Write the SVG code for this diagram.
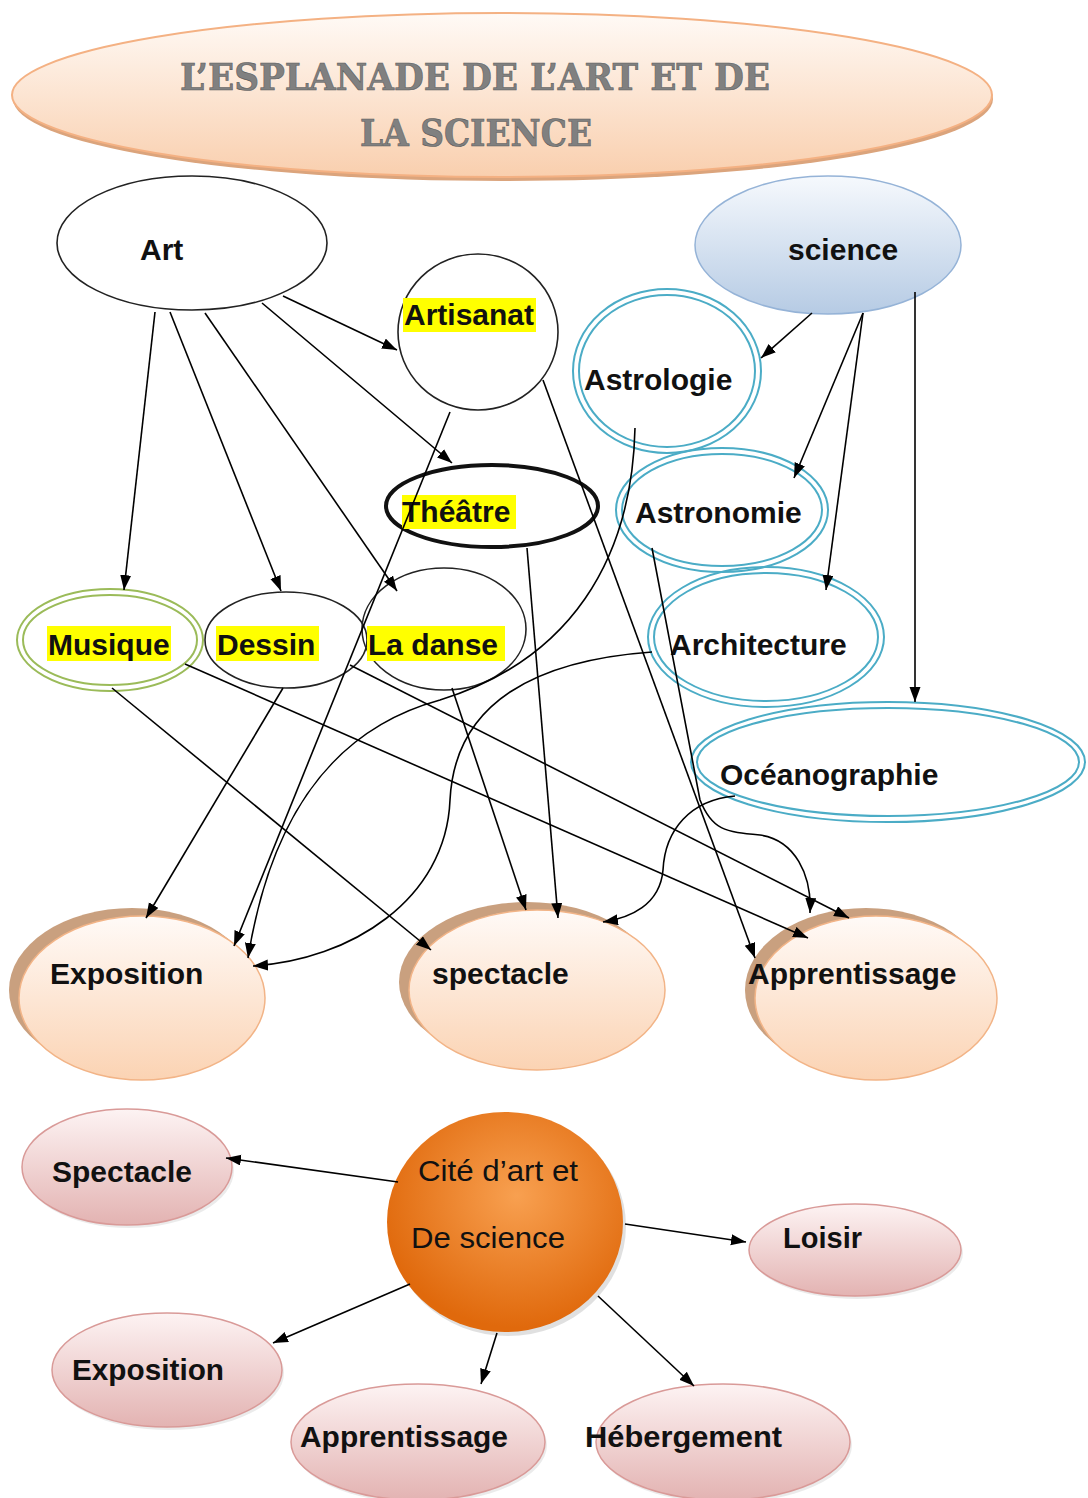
<svg xmlns="http://www.w3.org/2000/svg" width="1088" height="1498" viewBox="0 0 1088 1498">
<defs>
<linearGradient id="gTitle" x1="0" y1="0" x2="0" y2="1"><stop offset="0" stop-color="#fffaf6"/><stop offset="1" stop-color="#f9cfae"/></linearGradient>
<linearGradient id="gSci" x1="0" y1="0" x2="0" y2="1"><stop offset="0" stop-color="#f6f9fd"/><stop offset="1" stop-color="#b6cbe4"/></linearGradient>
<linearGradient id="gPeach" x1="0" y1="0" x2="0" y2="1"><stop offset="0" stop-color="#fffaf7"/><stop offset="1" stop-color="#fbd3b3"/></linearGradient>
<linearGradient id="gPink" x1="0" y1="0" x2="0" y2="1"><stop offset="0" stop-color="#fdf3f3"/><stop offset="1" stop-color="#e3b3b2"/></linearGradient>
<radialGradient id="gOrange" cx="0.55" cy="0.38" r="0.6"><stop offset="0" stop-color="#f8a050"/><stop offset="1" stop-color="#e0690c"/></radialGradient>
<marker id="ah" markerUnits="userSpaceOnUse" markerWidth="16" markerHeight="12" refX="15" refY="5.5" orient="auto"><path d="M0,0 L15,5.5 L0,11 z" fill="#000"/></marker>
<style>
.c{fill:none;stroke:#000;stroke-width:1.6;marker-end:url(#ah)}
.t{font-family:"Liberation Sans",Arial,sans-serif;font-weight:bold;font-size:30px;fill:#111}
.n{font-family:"Liberation Sans Narrow","Liberation Sans",Arial,sans-serif;font-size:30px;fill:#111}
.hl{fill:#ffff00}
.blk{fill:#fff;stroke:#222;stroke-width:1.6}
.cy{fill:none;stroke:#4bacc6;stroke-width:2}
.gr{fill:none;stroke:#9bbb59;stroke-width:2}
.pe{fill:url(#gPeach);stroke:#f2b487;stroke-width:1.5}
.sh{fill:#c9a07f}
.pk{fill:url(#gPink);stroke:#d99a98;stroke-width:1.5}
.ttl{font-family:"DejaVu Serif",serif;font-weight:bold;font-size:38px;fill:#808080;stroke:#5a5a5a;stroke-width:0.6}
</style>
</defs>
<rect width="1088" height="1498" fill="#fff"/>

<g id="title">
<ellipse cx="503" cy="99" rx="490" ry="82" fill="#dba47c"/>
<ellipse cx="502" cy="95" rx="490" ry="82" fill="url(#gTitle)" stroke="#f4b183" stroke-width="2"/>
<text class="ttl" x="180" y="90" textLength="590" lengthAdjust="spacingAndGlyphs">L’ESPLANADE DE L’ART ET DE</text>
<text class="ttl" x="360" y="146" textLength="232" lengthAdjust="spacingAndGlyphs">LA SCIENCE</text>
</g>

<g id="art">
<ellipse class="blk" cx="192" cy="243" rx="135" ry="67"/>
<text class="t" x="140" y="260">Art</text>
</g>
<g id="artisanat">
<ellipse cx="478" cy="332" rx="80" ry="78" fill="none" stroke="#222" stroke-width="1.6"/>
<rect class="hl" x="403" y="298" width="133" height="34"/>
<text class="t" x="404" y="325">Artisanat</text>
</g>
<g id="science">
<ellipse cx="828" cy="245" rx="133" ry="69" fill="url(#gSci)" stroke="#95b3d7" stroke-width="1.5"/>
<text class="t" x="788" y="260">science</text>
</g>
<g id="astrologie">
<ellipse class="cy" cx="667" cy="371" rx="94" ry="82"/>
<ellipse class="cy" cx="667" cy="371" rx="88" ry="76"/>
<text class="t" x="584" y="390">Astrologie</text>
</g>
<g id="astronomie">
<ellipse class="cy" cx="722" cy="510" rx="106" ry="62"/>
<ellipse class="cy" cx="722" cy="510" rx="100" ry="56"/>
<text class="t" x="635" y="523">Astronomie</text>
</g>
<g id="architecture">
<ellipse class="cy" cx="766" cy="637" rx="118" ry="70"/>
<ellipse class="cy" cx="766" cy="637" rx="112" ry="64"/>
<text class="t" x="670" y="655">Architecture</text>
</g>
<g id="oceanographie">
<ellipse class="cy" cx="888" cy="762" rx="197" ry="60"/>
<ellipse class="cy" cx="888" cy="762" rx="191" ry="54"/>
<text class="t" x="720" y="785">Océanographie</text>
</g>
<g id="theatre">
<ellipse cx="492" cy="506" rx="106" ry="41" fill="none" stroke="#111" stroke-width="4"/>
<rect class="hl" x="402" y="495" width="114" height="34"/>
<text class="t" x="402" y="522">Théâtre</text>
</g>
<g id="musique">
<ellipse class="gr" cx="110" cy="640" rx="93" ry="51"/>
<ellipse class="gr" cx="110" cy="640" rx="87" ry="45"/>
<rect class="hl" x="47" y="626" width="124" height="35"/>
<text class="t" x="48" y="655">Musique</text>
</g>
<g id="dessin">
<ellipse cx="286" cy="640" rx="81" ry="48" fill="none" stroke="#222" stroke-width="1.6"/>
<rect class="hl" x="216" y="626" width="103" height="35"/>
<text class="t" x="217" y="655">Dessin</text>
</g>
<g id="la-danse">
<ellipse cx="444" cy="629" rx="82" ry="61" fill="none" stroke="#222" stroke-width="1.6"/>
<rect class="hl" x="367" y="626" width="138" height="35"/>
<text class="t" x="368" y="655">La danse</text>
</g>

<g id="exposition">
<ellipse class="sh" cx="132" cy="990" rx="123" ry="82"/>
<ellipse class="pe" cx="142" cy="998" rx="123" ry="82"/>
<text class="t" x="50" y="984">Exposition</text>
</g>
<g id="spectacle">
<ellipse class="sh" cx="527" cy="982" rx="128" ry="80"/>
<ellipse class="pe" cx="537" cy="990" rx="128" ry="80"/>
<text class="t" x="432" y="984">spectacle</text>
</g>
<g id="apprentissage">
<ellipse class="sh" cx="866" cy="990" rx="121" ry="82"/>
<ellipse class="pe" cx="876" cy="998" rx="121" ry="82"/>
<text class="t" x="748" y="984">Apprentissage</text>
</g>

<g id="cite">
<ellipse cx="508" cy="1226" rx="118" ry="110" fill="#000" opacity="0.12"/>
<ellipse cx="505" cy="1222" rx="118" ry="110" fill="url(#gOrange)"/>
<text class="n" x="418" y="1181" textLength="160" lengthAdjust="spacingAndGlyphs">Cité d’art et</text>
<text class="n" x="411" y="1248" textLength="154" lengthAdjust="spacingAndGlyphs">De science</text>
</g>
<g id="b-spectacle">
<ellipse cx="129" cy="1170" rx="105" ry="58" fill="#000" opacity="0.08"/>
<ellipse class="pk" cx="127" cy="1167" rx="105" ry="58"/>
<text class="n" font-weight="bold" x="52" y="1182" textLength="140" lengthAdjust="spacingAndGlyphs">Spectacle</text>
</g>
<g id="b-loisir">
<ellipse cx="857" cy="1253" rx="106" ry="46" fill="#000" opacity="0.08"/>
<ellipse class="pk" cx="855" cy="1250" rx="106" ry="46"/>
<text class="n" font-weight="bold" x="783" y="1248" textLength="79" lengthAdjust="spacingAndGlyphs">Loisir</text>
</g>
<g id="b-exposition">
<ellipse cx="169" cy="1373" rx="115" ry="57" fill="#000" opacity="0.08"/>
<ellipse class="pk" cx="167" cy="1370" rx="115" ry="57"/>
<text class="n" font-weight="bold" x="72" y="1380" textLength="152" lengthAdjust="spacingAndGlyphs">Exposition</text>
</g>
<g id="b-apprentissage">
<ellipse cx="420" cy="1445" rx="127" ry="58" fill="#000" opacity="0.08"/>
<ellipse class="pk" cx="418" cy="1442" rx="127" ry="58"/>
<text class="n" font-weight="bold" x="300" y="1447" textLength="208" lengthAdjust="spacingAndGlyphs">Apprentissage</text>
</g>
<g id="b-hebergement">
<ellipse cx="725" cy="1445" rx="127" ry="58" fill="#000" opacity="0.08"/>
<ellipse class="pk" cx="723" cy="1442" rx="127" ry="58"/>
<text class="n" font-weight="bold" x="585" y="1447" textLength="197" lengthAdjust="spacingAndGlyphs">Hébergement</text>
</g>

<g id="connectors">
<path class="c" d="M283,296 L397,350"/>
<path class="c" d="M155,312 L124,590"/>
<path class="c" d="M170,312 L281,591"/>
<path class="c" d="M205,313 L397,591"/>
<path class="c" d="M262,303 L452,463"/>
<path class="c" d="M812,313 L761,358"/>
<path class="c" d="M863,313 L794,478"/>
<path class="c" d="M863,313 L826,590"/>
<path class="c" d="M915,292 L915,702"/>
<path class="c" d="M112,688 L431,950"/>
<path class="c" d="M185,664 L808,938"/>
<path class="c" d="M283,688 L146,918"/>
<path class="c" d="M350,665 L849,918"/>
<path class="c" d="M450,412 L234,946"/>
<path class="c" d="M527,548 L558,918"/>
<path class="c" d="M452,688 L526,910"/>
<path class="c" d="M635,428 C632,560 570,660 440,700 C330,730 270,820 248,958"/>
<path class="c" d="M652,652 C540,660 455,700 450,800 C446,900 350,960 253,966"/>
<path class="c" d="M735,796 C690,800 665,830 663,870 C660,905 630,918 603,922"/>
<path class="c" d="M652,548 L700,800 C712,830 725,832 760,835 C795,840 812,875 810,913"/>
<path class="c" d="M543,380 L755,958"/>
<path class="c" d="M398,1182 L226,1158"/>
<path class="c" d="M625,1224 L746,1242"/>
<path class="c" d="M410,1284 L273,1343"/>
<path class="c" d="M497,1333 L481,1384"/>
<path class="c" d="M598,1296 L694,1386"/>
</g>
</svg>
